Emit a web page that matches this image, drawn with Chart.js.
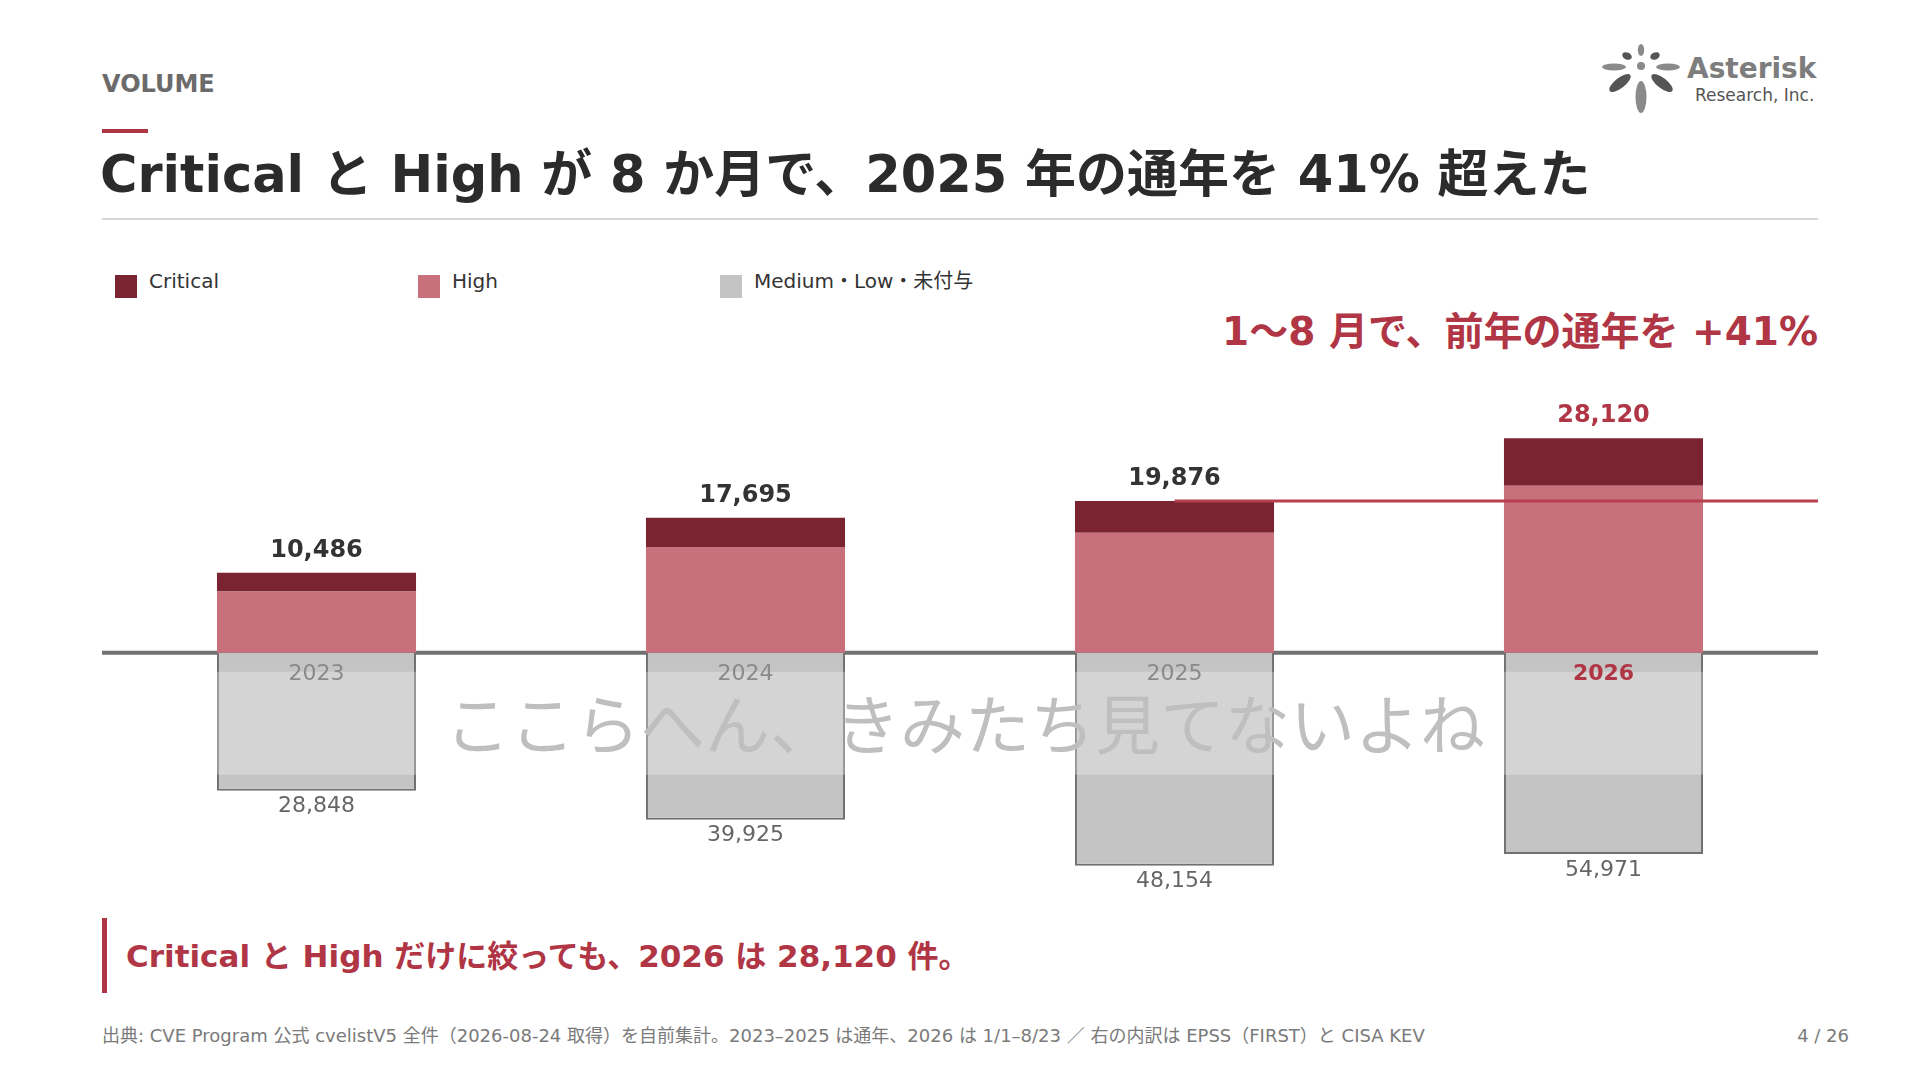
<!DOCTYPE html>
<html lang="ja">
<head>
<meta charset="utf-8">
<title>VOLUME</title>
<script src="https://cdn.jsdelivr.net/npm/chart.js@4.4.1/dist/chart.umd.min.js"></script>
<style>
  html, body { margin: 0; padding: 0; background: #fff; }
  body { width: 1920px; height: 1080px; position: relative; overflow: hidden;
         font-family: "DejaVu Sans", "Noto Sans CJK JP", sans-serif; }
  .abs { position: absolute; line-height: 1; white-space: nowrap; transform: translateY(-50%); }
  #kicker { left: 102px; top: 84px; font-size: 24px; font-weight: bold; color: #6b6b6b; }
  #accent { position: absolute; left: 102px; top: 129px; width: 46px; height: 4px; background: #b03545; }
  #title { left: 100px; top: 174px; font-size: 51px; font-weight: bold; color: #2b2b2b; }
  #rule { position: absolute; left: 102px; top: 218px; width: 1716px; height: 2px; background: #d6d6d6; }
  .leg { position: absolute; top: 275px; width: 22px; height: 23px; }
  .legtxt { top: 281px; font-size: 20px; color: #333; }
  #sub { right: 102px; top: 331px; font-size: 39px; font-weight: bold; color: #b03545; }
  #chartBox { position: absolute; left: 102px; top: 378px; width: 1716px; height: 519px; }
  #calloutBar { position: absolute; left: 102px; top: 918px; width: 5px; height: 75px; background: #b03545; }
  #callout { left: 126px; top: 956px; font-size: 31px; font-weight: bold; color: #b03545; }
  #source { left: 102px; top: 1036px; font-size: 18px; color: #7a7a7a; }
  #page { right: 71px; top: 1036px; font-size: 18px; color: #7a7a7a; }
  #logo { position: absolute; left: 1600px; top: 42px; }
  #logoName { left: 1687px; top: 69px; font-size: 28px; font-weight: bold; color: #7d7d7d; }
  #logoSub { left: 1695px; top: 95px; font-size: 17px; color: #555; }
</style>
</head>
<body>
<div id="kicker" class="abs">VOLUME</div>
<div id="accent"></div>
<div id="title" class="abs">Critical と High が 8 か月で、2025 年の通年を 41% 超えた</div>
<div id="rule"></div>

<svg id="logo" width="86" height="76" viewBox="0 0 86 76">
  <g transform="translate(41,24)">
    <ellipse cx="0" cy="0" rx="4" ry="4" fill="#8a8a8a"/>
    <ellipse cx="0" cy="-16" rx="3.2" ry="6" fill="#8a8a8a"/>
    <ellipse cx="-14" cy="-10" rx="5" ry="3.5" fill="#555" transform="rotate(25 -14 -10)"/>
    <ellipse cx="14" cy="-10" rx="5" ry="3.5" fill="#555" transform="rotate(-25 14 -10)"/>
    <ellipse cx="-27" cy="1" rx="12" ry="3.5" fill="#8a8a8a"/>
    <ellipse cx="27" cy="1" rx="12" ry="3.5" fill="#8a8a8a"/>
    <ellipse cx="-21" cy="17" rx="13" ry="5" fill="#555" transform="rotate(-38 -21 17)"/>
    <ellipse cx="21" cy="17" rx="13" ry="5" fill="#555" transform="rotate(38 21 17)"/>
    <ellipse cx="0" cy="31" rx="5.5" ry="16" fill="#8a8a8a"/>
  </g>
</svg>
<div id="logoName" class="abs">Asterisk</div>
<div id="logoSub" class="abs">Research, Inc.</div>

<div class="leg" style="left:115px;background:#7a2331"></div>
<div class="abs legtxt" style="left:149px">Critical</div>
<div class="leg" style="left:418px;background:#c8717c"></div>
<div class="abs legtxt" style="left:452px">High</div>
<div class="leg" style="left:720px;background:#c4c4c4"></div>
<div class="abs legtxt" style="left:754px">Medium・Low・未付与</div>

<div id="sub" class="abs">1〜8 月で、前年の通年を +41%</div>

<div id="chartBox"><canvas id="volChart"></canvas></div>

<div id="calloutBar"></div>
<div id="callout" class="abs">Critical と High だけに絞っても、2026 は 28,120 件。</div>
<div id="source" class="abs">出典: CVE Program 公式 cvelistV5 全件（2026-08-24 取得）を自前集計。2023–2025 は通年、2026 は 1/1–8/23 ／ 右の内訳は EPSS（FIRST）と CISA KEV</div>
<div id="page" class="abs">4 / 26</div>

<script>
"use strict";

// years on the x axis
const years = ["2023", "2024", "2025", "2026"];

// Critical + High totals (labels above the bars)
const severeTotals = [10486, 17695, 19876, 28120];
// split of each stack
const criticalCounts = [2450, 3850, 4150, 6250];
const highCounts = [8036, 13845, 15726, 21870];

// Medium / Low / unrated totals (labels below the bars)
const mediumTotals = [28848, 39925, 48154, 54971];
// depth the grey bars are actually drawn to in the slide (not to scale with the labels)
const mediumDrawnDepth = [18080, 21880, 27900, 26370];

// previous full-year level used for the comparison line
const baselineYear = "2025";
const baselineValue = 19876;

const watermarkText = "ここらへん、きみたち見てないよね";

const RED = "#b03545";
const fmt = (n) => n.toLocaleString("en-US");

const slideDecor = {
  id: "slideDecor",
  beforeDatasetsDraw(chart) {
    const { ctx, chartArea, scales } = chart;
    const y0 = scales.y.getPixelForValue(0);
    ctx.save();
    ctx.strokeStyle = "#707070";
    ctx.lineWidth = 4;
    ctx.beginPath();
    ctx.moveTo(chartArea.left, y0);
    ctx.lineTo(chartArea.right, y0);
    ctx.stroke();
    ctx.restore();
  },
  afterDatasetsDraw(chart) {
    const { ctx, chartArea, scales } = chart;
    const x = scales.x;
    const y = scales.y;
    const y0 = y.getPixelForValue(0);
    ctx.save();

    // pale band across the lower half
    ctx.fillStyle = "rgba(255,255,255,0.28)";
    ctx.fillRect(chartArea.left, y0 + 19, chartArea.right - chartArea.left, 103);

    ctx.fillStyle = "#bfbfbf";
    ctx.font = "65px 'Noto Sans CJK JP'";
    ctx.textAlign = "center";
    ctx.textBaseline = "middle";
    ctx.fillText(watermarkText, (chartArea.left + chartArea.right) / 2 + 5, y0 + 72);

    years.forEach((yr, i) => {
      const cx = x.getPixelForValue(i);
      const last = i === years.length - 1;

      // year inside the bar, just under the axis
      ctx.font = (last ? "bold " : "") + "22px 'DejaVu Sans'";
      ctx.fillStyle = last ? RED : "#8a8a8a";
      ctx.fillText(yr, cx, y0 + 22);

      // Critical + High total
      ctx.font = "bold 24px 'DejaVu Sans'";
      ctx.fillStyle = last ? RED : "#333";
      ctx.fillText(fmt(severeTotals[i]), cx, y.getPixelForValue(criticalCounts[i] + highCounts[i]) - 22);

      // Medium / Low total
      ctx.font = "22px 'DejaVu Sans'";
      ctx.fillStyle = "#666";
      ctx.fillText(fmt(mediumTotals[i]), cx, y.getPixelForValue(-mediumDrawnDepth[i]) + 16);
    });

    // last year's level carried across
    const ly = y.getPixelForValue(baselineValue);
    ctx.strokeStyle = "#b8404f";
    ctx.lineWidth = 3;
    ctx.beginPath();
    ctx.moveTo(x.getPixelForValue(years.indexOf(baselineYear)), ly);
    ctx.lineTo(chartArea.right, ly);
    ctx.stroke();
    ctx.restore();
  }
};

new Chart(document.getElementById("volChart"), {
  type: "bar",
  data: {
    labels: years,
    datasets: [
      {
        label: "High",
        data: highCounts,
        backgroundColor: "#c8717c",
        borderWidth: 0
      },
      {
        label: "Critical",
        data: criticalCounts,
        backgroundColor: "#7a2331",
        borderWidth: 0
      },
      {
        label: "Medium・Low・未付与",
        data: mediumDrawnDepth.map((v) => -v),
        backgroundColor: "#c4c4c4",
        borderColor: "#707070",
        borderWidth: 2,
        borderSkipped: "start"
      }
    ]
  },
  options: {
    responsive: true,
    maintainAspectRatio: false,
    animation: false,
    layout: { padding: 0 },
    datasets: { bar: { barPercentage: 0.464, categoryPercentage: 1 } },
    plugins: { legend: { display: false }, tooltip: { enabled: false } },
    scales: {
      x: { stacked: true, display: false, offset: true },
      y: { stacked: true, display: false, min: -32000, max: 36000 }
    }
  },
  plugins: [slideDecor]
});
</script>
</body>
</html>
